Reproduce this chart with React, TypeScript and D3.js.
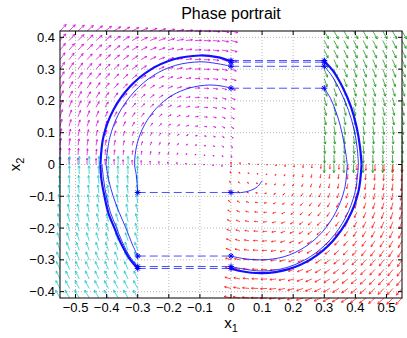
import React from 'react';
import * as d3 from 'd3';

const W = 407;
const H = 338;
const M = { left: 60, right: 5, top: 31, bottom: 40 };

const xTicks = [-0.5, -0.4, -0.3, -0.2, -0.1, 0, 0.1, 0.2, 0.3, 0.4, 0.5];
const yTicks = [-0.4, -0.3, -0.2, -0.1, 0, 0.1, 0.2, 0.3, 0.4];

// quiver grid (one mesh per region)
const colsLeft = [-0.55, -0.521, -0.492, -0.463, -0.434, -0.405, -0.376, -0.347, -0.318, -0.289, -0.26, -0.232, -0.203, -0.174, -0.145, -0.116, -0.087, -0.058, -0.029, 0];
const colsRight = [0, 0.029, 0.058, 0.087, 0.116, 0.145, 0.174, 0.203, 0.232, 0.26, 0.289, 0.318, 0.347, 0.376, 0.405, 0.434, 0.463, 0.492, 0.521, 0.55];
const colsFarRight = [0.3, 0.331, 0.363, 0.394, 0.425, 0.456, 0.488, 0.519, 0.55];
const colsFarLeft = [-0.55, -0.519, -0.488, -0.456, -0.425, -0.394, -0.363, -0.331, -0.3];
const rowsUp = [0, 0.03, 0.06, 0.09, 0.12, 0.15, 0.18, 0.21, 0.24, 0.27, 0.3, 0.33, 0.36, 0.39, 0.42];
const rowsDown = [0, -0.03, -0.06, -0.09, -0.12, -0.15, -0.18, -0.21, -0.24, -0.27, -0.3, -0.33, -0.36, -0.39, -0.42];

// vector field of each mode
const focusUp = -0.1;
const focusDown = 0.1;
const shear = 1.35;

const fields = [
  { color: '#d400d4', xs: colsLeft, ys: rowsUp, f: (a: number, b: number) => [b, -(a - focusUp)] },
  { color: '#109010', xs: colsFarRight, ys: rowsUp, f: (a: number, b: number) => [shear * b, -1] },
  { color: '#ff1010', xs: colsRight, ys: rowsDown, f: (a: number, b: number) => [b, -(a - focusDown)] },
  { color: '#10c4c4', xs: colsFarLeft, ys: rowsDown, f: (a: number, b: number) => [shear * b, 1] },
];

// trajectory pieces
const redStart = [[0.1, -0.051], [0.085, -0.07], [0.062, -0.082], [0.035, -0.088], [0, -0.088]];
const magInner = [[-0.3, -0.088], [-0.302, -0.06], [-0.305, -0.03], [-0.31, 0], [-0.302, 0.065], [-0.278, 0.125], [-0.24, 0.177], [-0.19, 0.217], [-0.132, 0.241], [-0.07, 0.25], [-0.025, 0.246], [0, 0.24]];
const greenThin = [[0.3, 0.24], [0.32, 0.208], [0.338, 0.165], [0.352, 0.12], [0.363, 0.07], [0.37, 0.03], [0.374, 0]];
const redThin = [[0.374, 0], [0.365, -0.078], [0.337, -0.15], [0.294, -0.212], [0.237, -0.26], [0.171, -0.29], [0.1, -0.3], [0.04, -0.296], [0, -0.288]];
const cyanThin = [[-0.3, -0.288], [-0.318, -0.25], [-0.338, -0.2], [-0.36, -0.15], [-0.379, -0.1], [-0.393, -0.05], [-0.402, 0]];
const magMid = [[-0.402, 0], [-0.39, 0.084], [-0.36, 0.162], [-0.312, 0.228], [-0.25, 0.28], [-0.178, 0.312], [-0.1, 0.323], [-0.048, 0.318], [0, 0.309]];
const greenMid = [[0.3, 0.309], [0.325, 0.278], [0.353, 0.228], [0.378, 0.17], [0.396, 0.11], [0.406, 0.05], [0.41, 0]];
const redMid = [[0.41, 0], [0.399, -0.087], [0.368, -0.168], [0.319, -0.237], [0.255, -0.29], [0.18, -0.324], [0.1, -0.335], [0.03, -0.327], [0, -0.321]];
const cyanMid = [[-0.3, -0.321], [-0.325, -0.29], [-0.35, -0.243], [-0.37, -0.195], [-0.388, -0.15], [-0.401, -0.1], [-0.41, -0.045], [-0.415, 0]];
const magOuter = [[-0.42, 0], [-0.41, 0.089], [-0.378, 0.172], [-0.327, 0.243], [-0.261, 0.297], [-0.184, 0.331], [-0.1, 0.343], [-0.044, 0.338], [0, 0.325]];
const greenOuter = [[0.3, 0.325], [0.327, 0.296], [0.359, 0.243], [0.386, 0.181], [0.404, 0.118], [0.415, 0.055], [0.42, 0]];
const redOuter = [[0.42, 0], [0.409, -0.089], [0.377, -0.171], [0.326, -0.242], [0.26, -0.296], [0.183, -0.33], [0.1, -0.342], [0.03, -0.335], [0, -0.327]];
const cyanOuter = [[-0.3, -0.327], [-0.327, -0.295], [-0.354, -0.248], [-0.375, -0.2], [-0.394, -0.154], [-0.407, -0.1], [-0.417, -0.045], [-0.42, 0]];

const thinPieces = [redStart, magInner, greenThin, redThin, cyanThin, magMid, greenMid, redMid, cyanMid];
const thickPieces = [magOuter, greenOuter, redOuter, cyanOuter];

// jumps (x1: 0 -> 0.3 above, -0.3 -> 0 below)
const jumpsUp = [0.24, 0.309, 0.322, 0.327];
const jumpsDown = [-0.088, -0.288, -0.321, -0.327];

const font = 'Liberation Sans, Arial, Helvetica, sans-serif';

const fmt = (d: number) => (Math.abs(d) < 1e-9 ? '0' : (d < 0 ? '\u2212' : '') + Math.abs(d).toFixed(1));

export default function App() {
  const x = d3.scaleLinear().domain([-0.55, 0.55]).range([M.left, W - M.right]);
  const y = d3.scaleLinear().domain([-0.42, 0.42]).range([H - M.bottom, M.top]);
  const line = d3
    .line<number[]>()
    .x(d => x(d[0]))
    .y(d => y(d[1]))
    .curve(d3.curveCatmullRom);

  const arrowLen = 9;
  const arrows: JSX.Element[] = [];
  fields.forEach((fd, fi) => {
    const vs: { a: number; b: number; u: number; v: number }[] = [];
    fd.xs.forEach(a => fd.ys.forEach(b => {
      const [u, v] = fd.f(a, b);
      vs.push({ a, b, u, v });
    }));
    const maxM = d3.max(vs, d => Math.hypot(d.u, d.v)) || 1;
    vs.forEach((d, i) => {
      const m = Math.hypot(d.u, d.v);
      if (m === 0) return;
      const len = arrowLen * Math.pow(m / maxM, 0.7);
      const dx = (d.u / m) * len;
      const dy = (-d.v / m) * len;
      const x0 = x(d.a);
      const y0 = y(d.b);
      const x1 = x0 + dx;
      const y1 = y0 + dy;
      const ang = Math.atan2(dy, dx);
      const hl = Math.max(1.2, len * 0.32);
      const h1 = [x1 - hl * Math.cos(ang - 0.45), y1 - hl * Math.sin(ang - 0.45)];
      const h2 = [x1 - hl * Math.cos(ang + 0.45), y1 - hl * Math.sin(ang + 0.45)];
      arrows.push(
        <path
          key={`q${fi}-${i}`}
          d={`M${x0},${y0} L${x1},${y1} M${h1[0]},${h1[1]} L${x1},${y1} L${h2[0]},${h2[1]}`}
          stroke={fd.color}
          strokeWidth={0.9}
          fill="none"
          opacity={0.8}
        />
      );
    });
  });

  const star = (cx: number, cy: number, key: string, r = 3) => (
    <path
      key={key}
      d={`M${cx - r},${cy} L${cx + r},${cy} M${cx},${cy - r} L${cx},${cy + r} M${cx - r * 0.7},${cy - r * 0.7} L${cx + r * 0.7},${cy + r * 0.7} M${cx - r * 0.7},${cy + r * 0.7} L${cx + r * 0.7},${cy - r * 0.7}`}
      stroke="#0000ff"
      strokeWidth={1}
      fill="none"
    />
  );

  const x0 = M.left;
  const x1 = W - M.right;
  const y0 = M.top;
  const y1 = H - M.bottom;

  return (
    <svg width={W} height={H} style={{ position: 'absolute', left: 0, top: 0 }} fontFamily={font}>
      <rect x={0} y={0} width={W} height={H} fill="#fff" />
      {/* grid */}
      <g stroke="#a8a8a8" strokeWidth={0.8} strokeDasharray="1,2">
        {xTicks.map(t => <line key={`gx${t}`} x1={x(t)} x2={x(t)} y1={y0} y2={y1} />)}
        {yTicks.map(t => <line key={`gy${t}`} x1={x0} x2={x1} y1={y(t)} y2={y(t)} />)}
      </g>
      <g>{arrows}</g>
      {/* jumps */}
      <g stroke="#3030ff" strokeWidth={1} strokeDasharray="8,4" fill="none" opacity={0.85}>
        {jumpsUp.map(v => <line key={`ju${v}`} x1={x(0)} x2={x(0.3)} y1={y(v)} y2={y(v)} />)}
        {jumpsDown.map(v => <line key={`jd${v}`} x1={x(-0.3)} x2={x(0)} y1={y(v)} y2={y(v)} />)}
      </g>
      {/* trajectories */}
      <g fill="none" stroke="#1010ff">
        {thinPieces.map((p, i) => <path key={`t${i}`} d={line(p) || ''} strokeWidth={1} opacity={0.85} />)}
        {thickPieces.map((p, i) => <path key={`T${i}`} d={line(p) || ''} strokeWidth={2.2} />)}
      </g>
      <g>
        {jumpsUp.map(v => star(x(0), y(v), `su0${v}`))}
        {jumpsUp.map(v => star(x(0.3), y(v), `su1${v}`))}
        {jumpsDown.map(v => star(x(-0.3), y(v), `sd0${v}`))}
        {jumpsDown.map(v => star(x(0), y(v), `sd1${v}`))}
      </g>
      {/* axes box and ticks */}
      <rect x={x0} y={y0} width={x1 - x0} height={y1 - y0} fill="none" stroke="#000" strokeWidth={1} />
      <g stroke="#000" strokeWidth={1}>
        {xTicks.map(t => (
          <g key={`tx${t}`}>
            <line x1={x(t)} x2={x(t)} y1={y1} y2={y1 - 4} />
            <line x1={x(t)} x2={x(t)} y1={y0} y2={y0 + 4} />
          </g>
        ))}
        {yTicks.map(t => (
          <g key={`ty${t}`}>
            <line x1={x0} x2={x0 + 4} y1={y(t)} y2={y(t)} />
            <line x1={x1} x2={x1 - 4} y1={y(t)} y2={y(t)} />
          </g>
        ))}
      </g>
      <g fontSize={13} fill="#000">
        {xTicks.map(t => (
          <text key={`lx${t}`} x={x(t)} y={y1 + 14} textAnchor="middle">{fmt(t)}</text>
        ))}
        {yTicks.map(t => (
          <text key={`ly${t}`} x={x0 - 5} y={y(t) + 4.5} textAnchor="end">{fmt(t)}</text>
        ))}
      </g>
      <text x={(x0 + x1) / 2} y={19} textAnchor="middle" fontSize={16}>Phase portrait</text>
      <text x={(x0 + x1) / 2} y={328} textAnchor="middle" fontSize={15}>
        x<tspan dy={4} fontSize={11}>1</tspan>
      </text>
      <text transform={`translate(20,${(y0 + y1) / 2}) rotate(-90)`} textAnchor="middle" fontSize={15}>
        x<tspan dy={4} fontSize={11}>2</tspan>
      </text>
    </svg>
  );
}
